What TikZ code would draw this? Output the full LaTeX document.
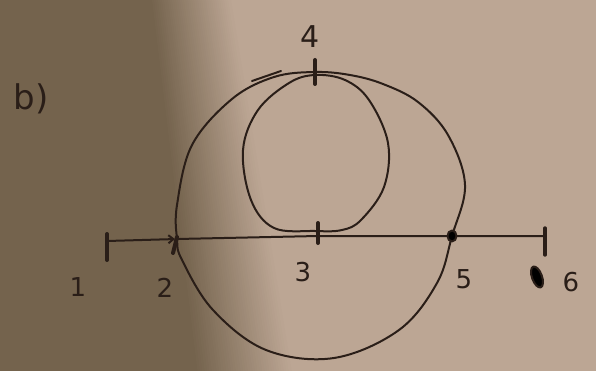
\documentclass[tikz,border=0pt]{standalone}
\usepackage{fontspec}
\setmainfont{DejaVu Sans}
\usepackage{tikz}
\usetikzlibrary{arrows.meta}

\definecolor{paperdark}{RGB}{116,99,77}
\definecolor{paperlight}{RGB}{188,166,148}
\definecolor{ink}{RGB}{42,30,24}

\begin{document}
\begin{tikzpicture}[x=1pt,y=-1pt,
    ink/.style={draw=ink, line width=2pt, line cap=round, line join=round},
    tickmark/.style={draw=ink, line width=4pt, line cap=round},
    lbl/.style={text=ink, inner sep=0pt, font=\fontsize{26}{28}\selectfont}]
        % === PAPER ===
        \fill[paperlight] (0,0) rectangle (596,371);
        \fill[paperdark] (0,0) -- (151,0) -- (196,371) -- (0,371) -- cycle;
        \foreach \i in {0,...,39} {
            \pgfmathsetmacro\pct{100-2.5*\i}
            \fill[paperdark!\pct!paperlight] (150+2*\i,0) -- (153+2*\i,0)
                -- (198+2.4*\i,371) -- (195+2.4*\i,371) -- cycle;
        }
        \useasboundingbox (0,0) rectangle (596,371);

        % === POINTS ===
        \coordinate (p1) at (107,241);
        \coordinate (p2) at (177,239);
        \coordinate (p3) at (318,236);
        \coordinate (p4) at (315,73);
        \coordinate (p5) at (452,236);
        \coordinate (p6) at (545,236);

        % === LINE ===
        \draw[ink, -{Straight Barb[length=5pt,width=8pt]}, shorten >=2pt] (p1) -- (p2);
        \draw[ink] (p2) -- (p3) -- (p5) -- (p6);

        % === BIG LOOP ===
        \draw[ink] plot[smooth cycle, tension=0.6] coordinates {
            (315,72) (350,75) (383,84) (418,102) (448,135) (465,185) (452,236)
            (437,283) (399,330) (334,358) (266,350) (213,310) (182,260)
            (177,239) (177,205) (192,145) (232,99) (274,77)};
        \draw[ink] (252,81) -- (281,71);

        % === SMALL LOOP ===
        \draw[ink] plot[smooth cycle, tension=0.6] coordinates {
            (315,75) (345,80) (369,100) (388,143) (384,187) (361,220)
            (342,230) (315,231) (274,228) (251,200) (243,150) (258,110)
            (289,83)};

        % === TICKS ===
        \draw[tickmark] ([yshift=7pt]p1) -- ([yshift=-19pt]p1);
        \draw[tickmark] ([shift={(0pt,2pt)}]p2) -- ([shift={(-4pt,-14pt)}]p2);
        \draw[tickmark] ([yshift=13pt]p3) -- ([yshift=-7pt]p3);
        \draw[tickmark] ([yshift=13pt]p4) -- ([yshift=-11pt]p4);
        \draw[tickmark, line width=3.4pt] ([yshift=8pt]p6) -- ([yshift=-19pt]p6);
        \fill[ink] (p5) ellipse (4.5pt and 5.5pt);

        % === LABELS ===
        \node[lbl, font=\fontsize{34}{38}\selectfont] (lb) at (31,99) {b)};
        \node[lbl] (l1) at (78,287) {1};
        \node[lbl] (l2) at (165,288) {2};
        \node[lbl] (l3) at (303,272) {3};
        \node[lbl, font=\fontsize{30}{32}\selectfont] (l4) at (310,37) {4};
        \node[lbl] (l5) at (464,279) {5};
        \node[lbl] (l6) at (571,282) {6};
        \fill[ink, rotate around={20:(537,277)}] (537,277) ellipse (5pt and 11pt);

\end{tikzpicture}
\end{document}
